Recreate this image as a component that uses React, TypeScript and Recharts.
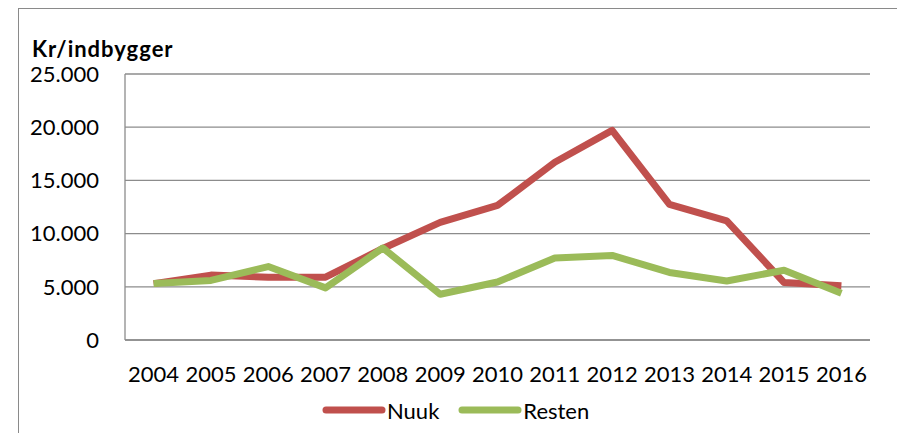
import React from 'react';
import {
  LineChart,
  Line,
  XAxis,
  YAxis,
  CartesianGrid,
  Legend,
} from 'recharts';

const years = ['2004', '2005', '2006', '2007', '2008', '2009', '2010', '2011', '2012', '2013', '2014', '2015', '2016'];
const nuuk = [5300, 6100, 5900, 5900, 8600, 11050, 12650, 16700, 19700, 12750, 11200, 5400, 5100];
const resten = [5300, 5600, 6900, 4900, 8650, 4300, 5450, 7700, 7950, 6350, 5550, 6550, 4400];
const yTicks = [0, 5000, 10000, 15000, 20000, 25000];

const data = years.map((year, i) => ({ year, Nuuk: nuuk[i], Resten: resten[i] }));

const RED = '#C0504D';
const GREEN = '#9BBB59';
const GRID = '#8C8C8C';
const FONT = 'Lato, "Open Sans", sans-serif';

const fmt = (v: number) => (v === 0 ? '0' : v.toLocaleString('da-DK').replace(/,/g, '.'));

const LegendContent = () => (
  <div style={{ display: 'flex', alignItems: 'center', fontFamily: FONT, fontSize: 22, color: '#000', paddingLeft: 322, height: 28 }}>
    {[{ name: 'Nuuk', color: RED }, { name: 'Resten', color: GREEN }].map((it) => (
      <div key={it.name} style={{ display: 'flex', alignItems: 'center', marginRight: 19 }}>
        <svg width={64} height={10} style={{ marginRight: 1 }}>
          <line x1={4} y1={5} x2={60} y2={5} stroke={it.color} strokeWidth={7} strokeLinecap="round" />
        </svg>
        <span>{it.name}</span>
      </div>
    ))}
  </div>
);

export default function App() {
  return (
    <div style={{ position: 'fixed', left: 0, top: 0, width: 897, height: 433, overflow: 'hidden', background: '#fff' }}>
      <div style={{ position: 'absolute', left: 18, top: 8, width: 880, height: 460, border: '1px solid #8a8a8a', boxSizing: 'border-box' }} />
      <div style={{ position: 'absolute', left: 32, top: 35, fontFamily: FONT, fontWeight: 700, fontSize: 22, letterSpacing: 1, color: '#000' }}>
        Kr/indbygger
      </div>
      <div style={{ position: 'absolute', left: 0, top: 0 }}>
        <LineChart width={897} height={433} data={data} margin={{ top: 74, right: 27, left: 0, bottom: 53 }}>
          <CartesianGrid vertical={false} stroke={GRID} strokeWidth={1.3} />
          <XAxis
            dataKey="year"
            interval={0}
            height={40}
            tickSize={0}
            tickMargin={26}
            padding={{ left: 28.6, right: 28.6 }}
            axisLine={{ stroke: GRID, strokeWidth: 1.3 }}
            tick={{ fill: '#000', fontSize: 22, fontFamily: FONT }}
          />
          <YAxis
            width={125}
            domain={[0, 25000]}
            ticks={yTicks}
            tickFormatter={fmt}
            tickSize={0}
            tickMargin={26}
            axisLine={{ stroke: GRID, strokeWidth: 1.3 }}
            tick={{ fill: '#000', fontSize: 22, fontFamily: FONT }}
          />
          <Legend
            layout="horizontal"
            verticalAlign="middle"
            align="center"
            wrapperStyle={{ top: 396, left: 0, width: 897 }}
            content={<LegendContent />}
          />
          <Line dataKey="Nuuk" stroke={RED} strokeWidth={7} dot={false} isAnimationActive={false} strokeLinejoin="round" />
          <Line dataKey="Resten" stroke={GREEN} strokeWidth={7} dot={false} isAnimationActive={false} strokeLinejoin="round" />
        </LineChart>
      </div>
    </div>
  );
}
